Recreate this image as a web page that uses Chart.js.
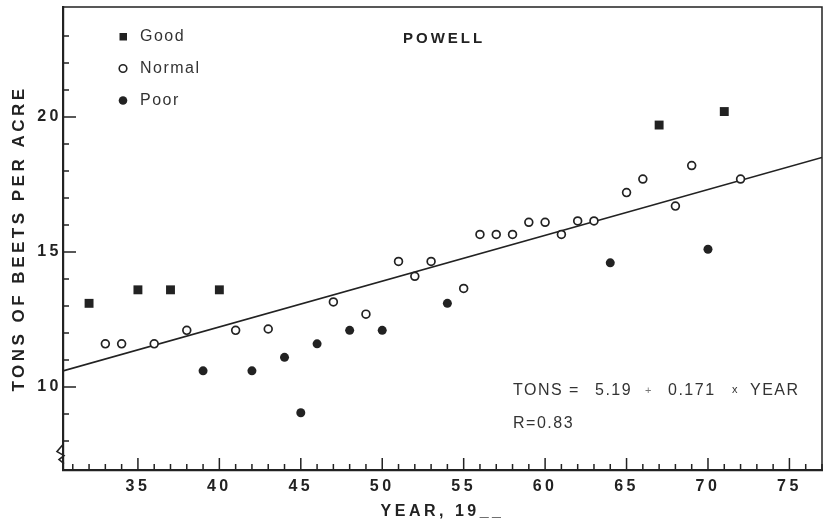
<!DOCTYPE html>
<html>
<head>
<meta charset="utf-8">
<script src="https://cdn.jsdelivr.net/npm/chart.js@4.4.1/dist/chart.umd.min.js"></script>
<style>
body { margin: 0; background: #fff; }
</style>
</head>
<body>
<canvas id="graph" width="823" height="523"></canvas>
<script>
// yields (tons of beets per acre)
var goodYears = [32, 35, 37, 40, 67, 71];
var goodTons = [13.1, 13.6, 13.6, 13.6, 19.7, 20.2];
var normalYears = [33, 34, 36, 38, 41, 43, 47, 49, 51, 52, 53, 55, 56, 57, 58, 59, 60, 61, 62, 63, 65, 66, 68, 69, 72];
var normalTons = [11.6, 11.6, 11.6, 12.1, 12.1, 12.15, 13.15, 12.7, 14.65, 14.1, 14.65, 13.65, 15.65, 15.65, 15.65, 16.1, 16.1, 15.65, 16.15, 16.15, 17.2, 17.7, 16.7, 18.2, 17.7];
var poorYears = [39, 42, 44, 45, 46, 48, 50, 54, 64, 70];
var poorTons = [10.6, 10.6, 11.1, 9.05, 11.6, 12.1, 12.1, 13.1, 14.6, 15.1];
// regression line, ends at the plot edges
var fitYears = [30.4, 77];
var fitTons = [10.6, 18.5];
var xTicks = [35, 40, 45, 50, 55, 60, 65, 70, 75];
var yTicks = [10, 15, 20];

var ink = '#222';

function pts(xs, ys) {
    return xs.map(function (x, i) { return { x: x, y: ys[i] }; });
}

function noPad(s) {
    s.paddingLeft = 0;
    s.paddingRight = 0;
    s.paddingTop = 0;
    s.paddingBottom = 0;
}

var frame = {
    id: 'frame',
    beforeDraw: function (chart) {
        chart.ctx.letterSpacing = '3.5px';
    },
    afterDraw: function (chart) {
        var ctx = chart.ctx, a = chart.chartArea;
        var xs = chart.scales.x, ys = chart.scales.y;
        ctx.save();
        ctx.letterSpacing = '0px';
        ctx.strokeStyle = ink;

        // top + right frame
        ctx.lineWidth = 1.5;
        ctx.beginPath();
        ctx.moveTo(a.left, a.top);
        ctx.lineTo(a.right, a.top);
        ctx.lineTo(a.right, a.bottom);
        ctx.stroke();

        // ticks pointing into the plot
        ctx.lineWidth = 1.5;
        ctx.beginPath();
        for (var v = Math.ceil(xs.min); v <= xs.max; v++) {
            var px = xs.getPixelForValue(v);
            var len = v % 5 === 0 ? 12 : 6;
            ctx.moveTo(px, a.bottom);
            ctx.lineTo(px, a.bottom - len);
        }
        for (var w = Math.ceil(ys.min); w <= ys.max; w++) {
            var py = ys.getPixelForValue(w);
            if (py < a.top + 4 || py > a.bottom - 4) continue;
            var l2 = w % 5 === 0 ? 13 : 6;
            ctx.moveTo(a.left, py);
            ctx.lineTo(a.left + l2, py);
        }
        ctx.stroke();

        // axis break squiggle
        var bx = a.left, by = ys.getPixelForValue(7.5);
        ctx.lineWidth = 1.6;
        ctx.beginPath();
        ctx.moveTo(bx, by - 10);
        ctx.lineTo(bx - 6, by - 3);
        ctx.lineTo(bx + 1, by + 1);
        ctx.lineTo(bx - 4, by + 5);
        ctx.lineTo(bx + 1, by + 9);
        ctx.stroke();

        // legend
        var lx = a.left + 60, ly = a.top + 29.5, step = 32;
        ctx.fillStyle = ink;
        ctx.fillRect(lx - 3.5, ly - 3.5, 7.5, 7.5);
        ctx.beginPath();
        ctx.arc(lx, ly + step, 3.8, 0, Math.PI * 2);
        ctx.fillStyle = '#fff';
        ctx.fill();
        ctx.lineWidth = 1.6;
        ctx.stroke();
        ctx.beginPath();
        ctx.arc(lx, ly + step * 2, 4.3, 0, Math.PI * 2);
        ctx.fillStyle = ink;
        ctx.fill();

        ctx.fillStyle = '#333';
        ctx.textBaseline = 'middle';
        ctx.textAlign = 'left';
        ctx.font = '16px "Liberation Sans"';
        ctx.letterSpacing = '1.5px';
        ctx.fillText('Good', lx + 17, ly);
        ctx.fillText('Normal', lx + 17, ly + step);
        ctx.fillText('Poor', lx + 17, ly + step * 2);

        // site name
        ctx.fillStyle = ink;
        ctx.font = 'bold 15px "Liberation Sans"';
        ctx.letterSpacing = '3px';
        ctx.fillText('POWELL', 403, 39);

        // equation
        ctx.fillStyle = '#333';
        ctx.font = '16px "Liberation Sans"';
        ctx.letterSpacing = '1.5px';
        ctx.fillText('TONS =', 513, 391);
        ctx.fillText('5.19', 595, 391);
        ctx.fillText('0.171', 668, 391);
        ctx.fillText('YEAR', 750, 391);
        ctx.fillText('R=0.83', 513, 424);
        ctx.font = '11px "Liberation Sans"';
        ctx.letterSpacing = '0px';
        ctx.fillStyle = '#777';
        ctx.fillText('+', 645, 391);
        ctx.fillStyle = '#333';
        ctx.fillText('x', 732, 390);

        ctx.restore();
    }
};

var g = document.getElementById('graph').getContext('2d');

var graph = new Chart(g, {
    type: 'scatter',
    data: {
        datasets: [{
            label: 'Good',
            data: pts(goodYears, goodTons),
            pointStyle: 'rect',
            pointRadius: 6.3,
            backgroundColor: ink,
            borderColor: ink,
            borderWidth: 0,
            order: 1
        }, {
            label: 'Normal',
            data: pts(normalYears, normalTons),
            pointStyle: 'circle',
            pointRadius: 3.9,
            backgroundColor: '#fff',
            borderColor: ink,
            borderWidth: 1.7,
            order: 1
        }, {
            label: 'Poor',
            data: pts(poorYears, poorTons),
            pointStyle: 'circle',
            pointRadius: 4.5,
            backgroundColor: ink,
            borderColor: ink,
            borderWidth: 0,
            order: 1
        }, {
            type: 'line',
            label: 'fit',
            data: pts(fitYears, fitTons),
            borderColor: ink,
            borderWidth: 1.6,
            pointRadius: 0,
            fill: false,
            order: 10
        }]
    },
    options: {
        responsive: false,
        animation: false,
        devicePixelRatio: 1,
        layout: { autoPadding: false, padding: { left: 0, top: 7, right: 1, bottom: 0 } },
        plugins: {
            legend: { display: false },
            tooltip: { enabled: false }
        },
        scales: {
            x: {
                type: 'linear',
                min: 30.4,
                max: 77,
                afterBuildTicks: function (s) { s.ticks = xTicks.map(function (v) { return { value: v }; }); },
                afterFit: function (s) { s.height = 53; noPad(s); },
                grid: { display: false, drawTicks: false },
                border: { display: true, width: 2.2, color: ink },
                ticks: {
                    color: ink,
                    padding: 7,
                    maxRotation: 0,
                    font: { family: 'Liberation Sans', size: 16, weight: 'bold' }
                },
                title: {
                    display: true,
                    text: 'YEAR, 19__',
                    color: ink,
                    padding: { top: 0, bottom: 2 },
                    font: { family: 'Liberation Sans', size: 16, weight: 'bold' }
                }
            },
            y: {
                type: 'linear',
                min: 6.93,
                max: 24.07,
                afterBuildTicks: function (s) { s.ticks = yTicks.map(function (v) { return { value: v }; }); },
                afterFit: function (s) { s.width = 63; noPad(s); },
                grid: { display: false, drawTicks: false },
                border: { display: true, width: 2.2, color: ink },
                ticks: {
                    color: ink,
                    padding: 1,
                    font: { family: 'Liberation Sans', size: 16, weight: 'bold' }
                },
                title: {
                    display: true,
                    text: 'TONS OF BEETS PER ACRE',
                    color: ink,
                    padding: { top: 9, bottom: 0 },
                    font: { family: 'Liberation Sans', size: 17, weight: 'bold' }
                }
            }
        }
    },
    plugins: [frame]
});
</script>
</body>
</html>
